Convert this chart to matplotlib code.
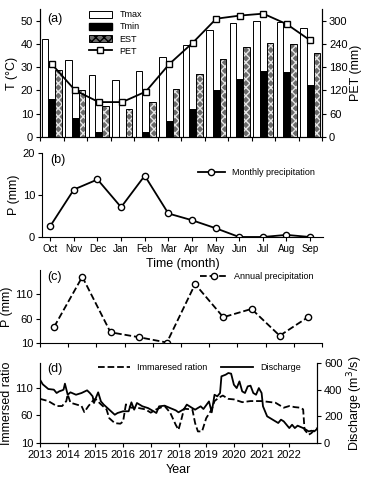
import matplotlib
matplotlib.use('Agg')
import numpy as np
from matplotlib import pyplot as plt
from matplotlib.patches import Patch
from matplotlib.lines import Line2D

plt.rcParams['font.family'] = ['Liberation Sans', 'DejaVu Sans']
plt.rcParams['font.size'] = 8

months = ['Oct', 'Nov', 'Dec', 'Jan', 'Feb', 'Mar', 'Apr', 'May', 'Jun', 'Jul', 'Aug', 'Sep']
tmax = [42, 33, 26.5, 24.5, 28.5, 34.5, 39.5, 46, 49, 50, 49.5, 47]
tmin = [16.5, 8, 2, 0, 2, 7, 12, 20, 25, 28.5, 28, 22.5]
est = [29, 20, 13.5, 12, 15, 20.5, 27, 33.5, 38.5, 40.5, 40, 36]
pet = [188, 120, 90, 90, 117, 188, 243, 305, 313, 318, 291, 249]

monthly_p = [2.6, 11.3, 13.7, 7.1, 14.6, 5.6, 4.0, 2.1, 0, 0, 0.5, 0]

years = [2013, 2014, 2015, 2016, 2017, 2018, 2019, 2020, 2021, 2022]
annual_p = [43, 146, 32, 22, 11, 131, 63, 80, 25, 63]

q_t = [2013.0, 2013.1, 2013.3, 2013.5, 2013.6, 2013.7, 2013.8, 2013.85, 2013.9, 2014.0,
       2014.1, 2014.3, 2014.5, 2014.7, 2014.8, 2014.9, 2014.95, 2015.0, 2015.1, 2015.2,
       2015.3, 2015.5, 2015.7, 2015.8, 2016.0, 2016.2, 2016.3, 2016.4, 2016.5, 2016.7,
       2016.9, 2017.0, 2017.1, 2017.2, 2017.3, 2017.5, 2017.7, 2017.9, 2018.0, 2018.2,
       2018.3, 2018.5, 2018.6, 2018.8, 2018.9, 2019.1, 2019.2, 2019.3, 2019.4, 2019.5,
       2019.55, 2019.7, 2019.8, 2019.9, 2020.0, 2020.1, 2020.2, 2020.3, 2020.4, 2020.5,
       2020.6, 2020.7, 2020.8, 2020.9, 2021.0, 2021.05, 2021.2, 2021.4, 2021.6, 2021.7,
       2021.8, 2022.0, 2022.1, 2022.2, 2022.3, 2022.5, 2022.6, 2022.7, 2022.8, 2022.9, 2023.0]
discharge = [475, 440, 405, 400, 375, 388, 395, 400, 445, 362,
             380, 362, 375, 395, 375, 350, 300, 330, 380, 312,
             288, 250, 212, 225, 238, 238, 305, 250, 300, 275,
             262, 250, 238, 225, 275, 280, 262, 245, 230, 255,
             288, 262, 250, 275, 255, 312, 230, 362, 350, 375,
             500, 512, 525, 520, 437, 412, 462, 387, 375, 425,
             430, 375, 362, 412, 375, 275, 200, 175, 150, 175,
             162, 112, 137, 112, 130, 112, 100, 87, 92, 87, 105]

r_t = [2013.0, 2013.3, 2013.6, 2013.8, 2013.95, 2014.0, 2014.1, 2014.3, 2014.5, 2014.6,
       2014.75, 2014.9, 2015.0, 2015.2, 2015.4, 2015.5, 2015.7, 2015.9, 2016.0, 2016.1,
       2016.3, 2016.5, 2016.8, 2017.0, 2017.2, 2017.5, 2017.7, 2017.9, 2018.0, 2018.1,
       2018.2, 2018.5, 2018.6, 2018.7, 2018.85, 2019.0, 2019.2, 2019.3, 2019.45, 2019.6,
       2019.8, 2020.0, 2020.3, 2020.6, 2021.0, 2021.5, 2021.8, 2022.0, 2022.2, 2022.4,
       2022.5, 2022.55, 2022.7, 2022.8, 2022.9, 2023.0]
ratio = [90, 86, 77, 77, 86, 98, 83, 80, 77, 66,
         77, 86, 90, 80, 71, 55, 46, 45, 49, 80,
         74, 74, 71, 65, 71, 77, 65, 43, 34, 52,
         72, 71, 46, 31, 31, 55, 71, 86, 92, 96,
         90, 89, 84, 86, 86, 83, 74, 77, 75, 74,
         71, 34, 25, 28, 34, 37]

W, H = 366, 480
fig = plt.figure(figsize=(W / 100, H / 100), dpi=100)


def box(l, t, r, b):
    return [l / W, 1 - b / H, (r - l) / W, (b - t) / H]


def style(ax, right=False):
    ax.spines['top'].set_visible(False)
    if not right:
        ax.spines['right'].set_visible(False)
    ax.tick_params(direction='out', length=3, width=0.8, pad=2, labelsize=8)


# (a) temperatures and PET
ax = fig.add_axes(box(40, 9, 322, 137))
x = np.arange(12)
w = 0.28
ax.bar(x - w, tmax, w, color='white', edgecolor='black', linewidth=0.7)
ax.bar(x, tmin, w, color='black', edgecolor='black', linewidth=0.7)
plt.rcParams['hatch.color'] = '#e6e6e6'
ax.bar(x + w, est, w, color='#6a6a6a', hatch='xxxx', linewidth=0)
ax.bar(x + w, est, w, fill=False, edgecolor='black', linewidth=0.7)
ax.set_xlim(-0.5, 11.5)
ax.set_xticks(np.arange(-0.5, 12, 1))
ax.set_xticklabels([])
ax.set_ylim(0, 55)
ax.set_yticks([0, 10, 20, 30, 40, 50])
ax.set_ylabel('T (°C)', fontsize=9, labelpad=2)
style(ax, right=True)
ax2 = ax.twinx()
ax2.plot(x, pet, '-s', color='black', lw=1.3, ms=4.5, mfc='white', mec='black')
ax2.set_ylim(0, 330)
ax2.set_yticks([0, 60, 120, 180, 240, 300])
ax2.set_ylabel('PET (mm)', fontsize=9, labelpad=2)
style(ax2, right=True)
ax.text(0.025, 0.97, '(a)', transform=ax.transAxes, fontsize=9, va='top')
hatched = Patch(facecolor='#6a6a6a', hatch='xxxx', edgecolor='black', linewidth=0.7)
handles = [Patch(facecolor='white', edgecolor='black', linewidth=0.7),
           Patch(facecolor='black', edgecolor='black'),
           hatched,
           Line2D([], [], color='black', marker='s', mfc='white', ms=4, lw=1.3)]
ax.legend(handles, ['Tmax', 'Tmin', 'EST', 'PET'], loc='upper left',
          bbox_to_anchor=(0.15, 1.04), frameon=False, fontsize=6.5,
          handlelength=2.6, handleheight=0.8, labelspacing=0.35, borderpad=0.2)

# (b) monthly precipitation
ax = fig.add_axes(box(42, 153, 323, 237))
ax.plot(range(12), monthly_p, '-o', color='black', lw=1.3, ms=4.5, mfc='white', mec='black')
ax.set_xlim(-0.35, 11.55)
ax.set_xticks(range(12))
ax.set_xticklabels(months, fontsize=7)
ax.set_ylim(0, 20)
ax.set_yticks([0, 10, 20])
ax.set_ylabel('P (mm)', fontsize=9, labelpad=2)
ax.set_xlabel('Time (month)', fontsize=9, labelpad=3)
style(ax)
ax.tick_params(axis='x', labelsize=7)
ax.text(0.03, 0.99, '(b)', transform=ax.transAxes, fontsize=9, va='top')
ax.legend(['Monthly precipitation'], loc='upper right', bbox_to_anchor=(1.0, 0.92),
          frameon=False, fontsize=6.5, handlelength=3)

# (c) annual precipitation
ax = fig.add_axes(box(40, 270, 322, 343))
ax.plot(np.arange(10) + 0.5, annual_p, '--o', color='black', lw=1.3, ms=4.5,
        mfc='white', mec='black')
ax.set_xlim(0, 10)
ax.set_xticks(range(11))
ax.set_xticklabels([])
ax.set_ylim(10, 160)
ax.set_yticks([10, 60, 110])
ax.set_ylabel('P (mm)', fontsize=9, labelpad=2)
style(ax)
ax.text(0.025, 0.99, '(c)', transform=ax.transAxes, fontsize=9, va='top')
ax.legend(['Annual precipitation'], loc='upper right', bbox_to_anchor=(1.0, 1.08),
          frameon=False, fontsize=6.5, handlelength=3)

# (d) immersed ratio and discharge
ax = fig.add_axes(box(40, 363, 317, 443))
l1, = ax.plot(r_t, ratio, '--', color='black', lw=1.3)
ax.set_xlim(2013, 2023)
ax.set_xticks(years)
ax.set_xticklabels([str(y) for y in years], fontsize=8)
ax.set_ylim(10, 155)
ax.set_yticks([10, 60, 110])
ax.set_ylabel('Immersed ratio', fontsize=9, labelpad=2)
ax.set_xlabel('Year', fontsize=9, labelpad=3)
style(ax, right=True)
ax2 = ax.twinx()
l2, = ax2.plot(q_t, discharge, '-', color='black', lw=1.3)
ax2.set_ylim(0, 600)
ax2.set_yticks([0, 200, 400, 600])
ax2.set_ylabel('Discharge (m$^3$/s)', fontsize=9, labelpad=2)
style(ax2, right=True)
ax.text(0.025, 1.0, '(d)', transform=ax.transAxes, fontsize=9, va='top')
ax.legend([l1, l2], ['Immaresed ration', 'Discharge'], loc='upper right',
          bbox_to_anchor=(0.97, 1.1), ncol=2, frameon=False, fontsize=6.5,
          handlelength=3.5, columnspacing=1.5)

fig.savefig('out.png', dpi=100)
